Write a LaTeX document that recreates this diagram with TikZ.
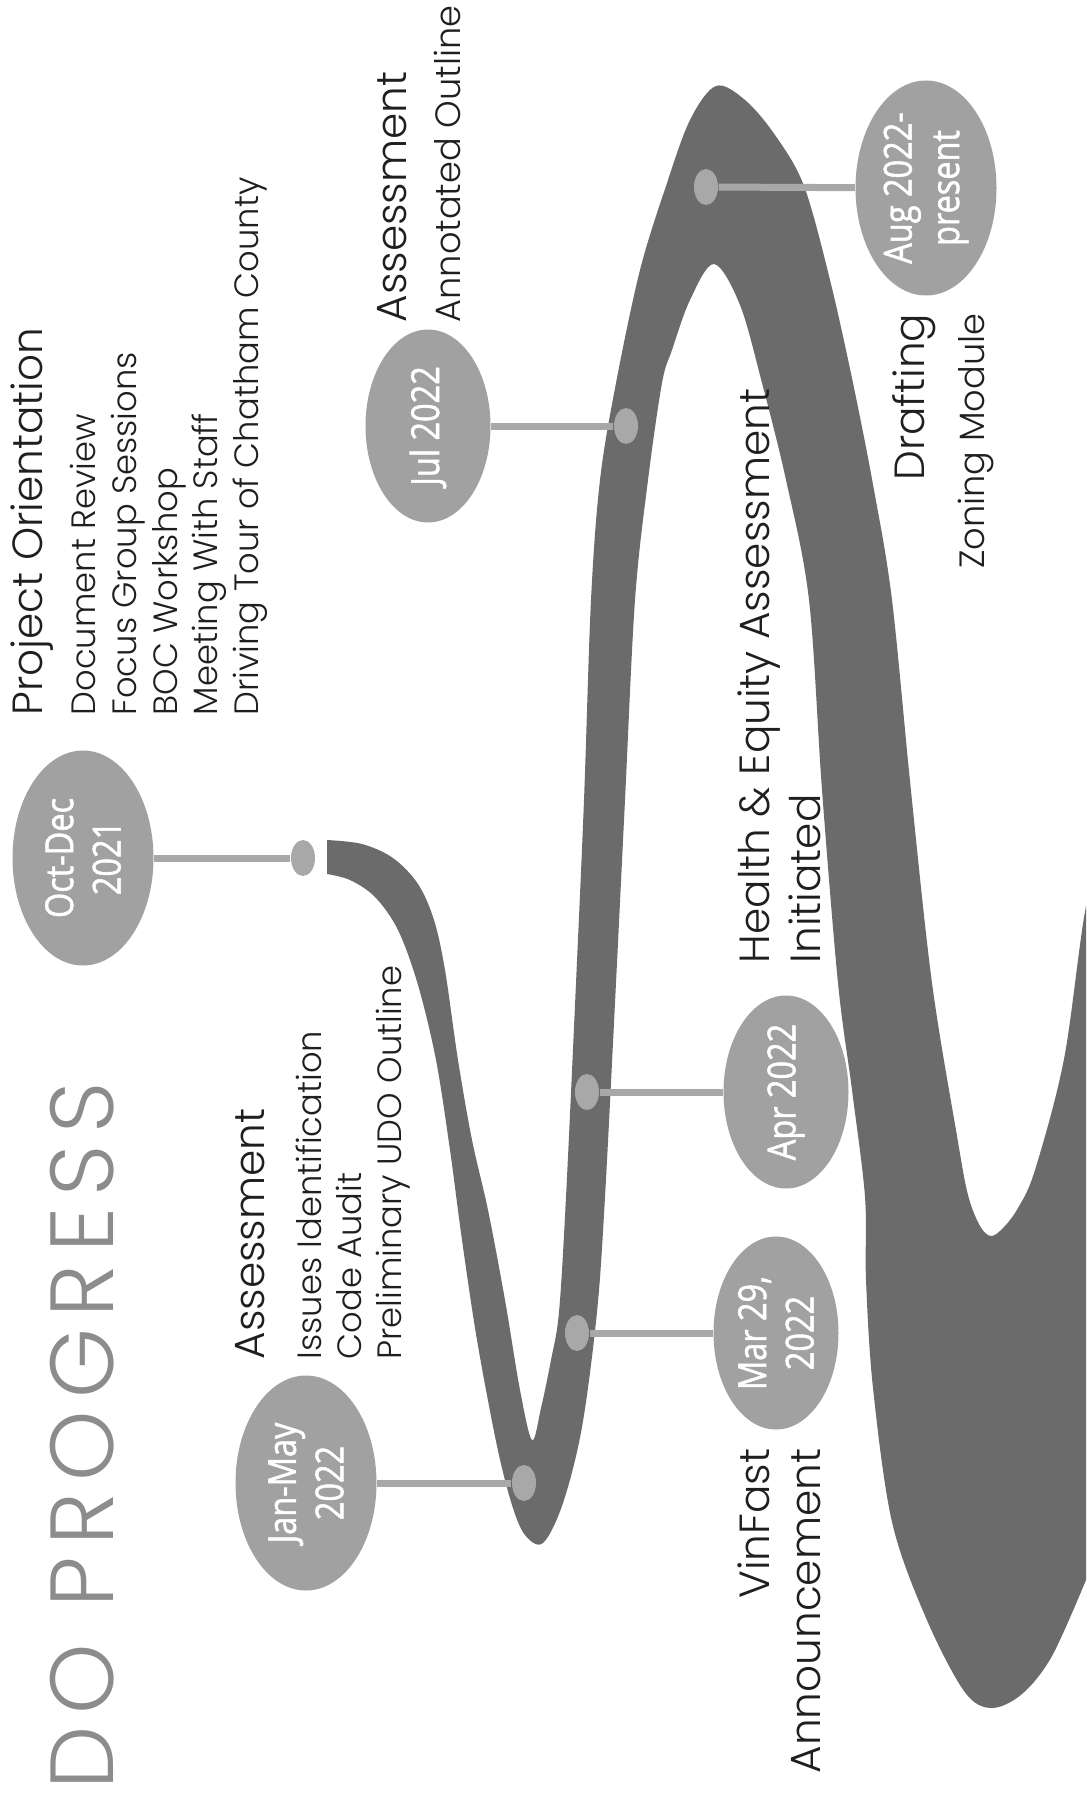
\documentclass[tikz,border=0pt]{standalone}
\usepackage{fontspec}
\setmainfont{Poppins Light}
\newfontfamily\headfont[LetterSpace=13]{Poppins Light}
\newfontfamily\datefont[FakeStretch=0.84,FakeBold=1.3]{Open Sans}
\usepackage{xcolor}
\usetikzlibrary{shapes.geometric}
\definecolor{ribbongray}{gray}{0.42}
\definecolor{bubblegray}{gray}{0.63}
\definecolor{knobgray}{gray}{0.66}
\definecolor{titlegray}{gray}{0.55}
\definecolor{ink}{gray}{0.12}

\begin{document}
\begin{tikzpicture}[x=0.1mm, y=-0.1mm,
	bubble/.style={ellipse, fill=bubblegray, inner sep=0pt, rotate=90, text=white,
		font=\datefont\fontsize{11}{13.5}\selectfont, align=center},
	bigbub/.style={bubble, minimum width=21.5mm, minimum height=14.1mm},
	smallbub/.style={bubble, minimum width=19.3mm, minimum height=12.5mm},
	knob/.style={ellipse, fill=knobgray, inner sep=0pt, minimum width=2.4mm, minimum height=3.6mm},
	link/.style={draw=knobgray, line width=0.7mm},
	note/.style={rotate=90, inner sep=0pt, text=ink}]
	\useasboundingbox (0,0) rectangle (1086,1797);
	% the ribbon
	\begin{scope}
		\clip (0,0) rectangle (1086,1797);
		\fill[ribbongray] plot[smooth, tension=0.55] coordinates {
			(327,840) (362,844) (393,858) (418,884) (434,920) (445,970) (458,1060) (472,1140)
			(488,1210) (505,1300) (520,1390) (532,1440) (541,1408) (551,1360) (559,1312) (566,1197)
			(576,983) (584,800) (591,600) (600,480) (616,383) (640,270) (666,186) (690,120)
			(716,86) (745,100) (775,135) (804,186) (830,280) (853,383) (874,490) (892,600)
			(911,791) (932,983) (957,1136) (968,1195) (980,1226) (991,1236) (1003,1228)
			(1018,1208) (1035,1170) (1064,1059) (1086,906) (1110,820)}
		-- (1110,1540)
		-- plot[smooth, tension=0.55] coordinates {
			(1086,1580) (1052,1656) (1022,1694) (991,1708) (964,1691) (926,1618) (892,1522)
			(873,1388) (866,1280) (865,1197) (852,1090) (838,983) (822,790) (809,600)
			(786,480) (762,383) (740,305) (714,264) (690,300) (672,350) (662,383) (648,480)
			(635,600) (625,800) (616,983) (605,1197) (597,1312) (582,1427) (563,1503)
			(543,1543) (525,1535) (512,1505) (497,1446) (477,1340) (462,1240) (450,1150)
			(436,1060) (418,985) (398,930) (375,897) (350,880) (327,874)}
		-- cycle;
	\end{scope}
	% dates
	\node[bigbub] (octdec) at (83,858) {Oct-Dec\\2021};
	\node[bigbub] (janmay) at (306,1483) {Jan-May\\2022};
	\node[smallbub] (mar) at (776,1333) {Mar 29,\\2022};
	\node[smallbub] (apr) at (786,1092) {Apr 2022};
	\node[smallbub] (jul) at (428,426) {Jul 2022};
	\node[bigbub] (aug) at (926,188) {Aug 2022-\\present};
	% knobs on the ribbon
	\node[knob] (koct) at (303,858) {};
	\node[knob] (kjan) at (524,1483) {};
	\node[knob] (kmar) at (577,1333) {};
	\node[knob] (kapr) at (587,1092) {};
	\node[knob] (kjul) at (626,426) {};
	\node[knob] (kaug) at (706,187) {};
	\foreach \k/\d in {koct/octdec, kjan/janmay, kmar/mar, kapr/apr, kjul/jul, kaug/aug}
	\draw[link] (\k) -- (\d);
	% texts
	\node[note, anchor=base west, text=titlegray, font=\headfont\fontsize{25.5}{30}\selectfont]
	(title) at (113,1790) {DO PROGRESS};
	\node[note, anchor=north west, align=left, font=\fontsize{9.6}{11.6}\selectfont]
	(orient) at (10,716) {{\fontsize{12}{12}\selectfont Project Orientation}\\[3.5pt]
		Document Review\\ Focus Group Sessions\\ BOC Workshop\\ Meeting With Staff\\
		Driving Tour of Chatham County};
	\node[note, anchor=north west, align=left, font=\fontsize{9.6}{11.4}\selectfont]
	(assess) at (235,1360) {{\fontsize{12}{12}\selectfont Assessment}\\[4.8pt]
		Issues Identification\\ Code Audit\\ Preliminary UDO Outline};
	\node[note, anchor=north west, align=left, font=\fontsize{10}{12}\selectfont]
	(outline) at (377,323) {{\fontsize{12}{12}\selectfont Assessment}\\[3.4pt] Annotated Outline};
	\node[note, anchor=north west, align=left, font=\fontsize{12}{14.5}\selectfont]
	(health) at (737,964) {Health \& Equity Assessment\\ Initiated};
	\node[note, anchor=north east, align=right, font=\fontsize{12}{14.5}\selectfont]
	(vinfast) at (737,1448) {VinFast\\ Announcement};
	\node[note, anchor=north east, align=right, font=\fontsize{10}{12}\selectfont]
	(draft) at (892,313) {{\fontsize{12}{12}\selectfont Drafting}\\[5pt] Zoning Module};
\end{tikzpicture}
\end{document}
